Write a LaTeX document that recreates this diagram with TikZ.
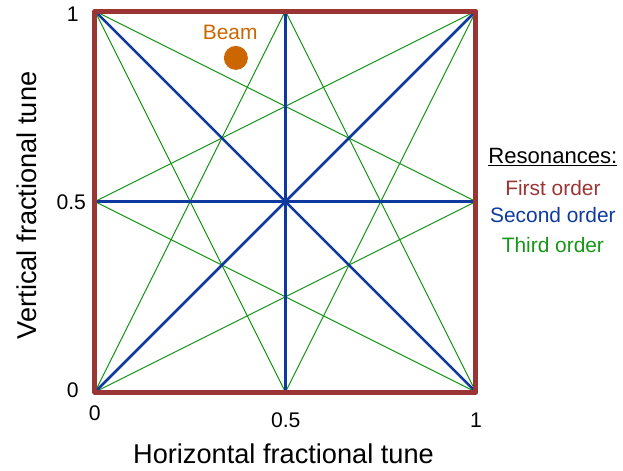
\documentclass[tikz,border=0pt]{standalone}
\usepackage{fontspec}
\setmainfont{Liberation Sans}
\definecolor{firstred}{RGB}{155,52,52}
\definecolor{secondblue}{RGB}{14,58,160}
\definecolor{thirdgreen}{RGB}{22,150,22}
\definecolor{beamorange}{RGB}{204,102,0}
\begin{document}
\begin{tikzpicture}[
    first/.style={draw=firstred, line width=3.7pt, line join=round},
    second/.style={draw=secondblue, line width=1.9pt},
    third/.style={draw=thirdgreen, line width=0.75pt},
    tick/.style={font=\fontsize{15.8}{17}\selectfont},
    legend/.style={font=\fontsize{15.6}{18}\selectfont}
  ]
    \useasboundingbox (-2.49,-2.05) rectangle (13.86,10.29);

    % Corners and midpoints of the tune square
    \coordinate (bl) at (0,0);
    \coordinate (br) at (10,0);
    \coordinate (tl) at (0,10);
    \coordinate (tr) at (10,10);
    \coordinate (bm) at (5,0);
    \coordinate (tm) at (5,10);
    \coordinate (lm) at (0,5);
    \coordinate (rm) at (10,5);

    % Third order resonances
    \draw[third] (tl) -- (bm);
    \draw[third] (tm) -- (br);
    \draw[third] (lm) -- (br);
    \draw[third] (tl) -- (rm);
    \draw[third] (bl) -- (tm);
    \draw[third] (bm) -- (tr);
    \draw[third] (bl) -- (rm);
    \draw[third] (lm) -- (tr);

    % Second order resonances
    \draw[second] (bm) -- (tm);
    \draw[second] (lm) -- (rm);
    \draw[second] (bl) -- (tr);
    \draw[second] (tl) -- (br);

    % First order resonances (frame)
    \draw[first] (bl) rectangle (tr);

    % Beam
    \fill[beamorange] (3.70,8.77) circle (0.315) coordinate (beam);
    \node[text=beamorange, legend] (beamlabel) at (3.55,9.45) {Beam};

    % Tick labels
    \node[tick] (y1) at (-0.58,9.92) {1};
    \node[tick] (yhalf) at (-0.62,4.99) {0.5};
    \node[tick] (y0) at (-0.58,0.05) {0};
    \node[tick] (x0) at (0,-0.55) {0};
    \node[tick] (xhalf) at (5.01,-0.73) {0.5};
    \node[tick] (x1) at (10,-0.73) {1};

    % Axis titles
    \node[font=\fontsize{20.3}{23}\selectfont] (xlabel) at (4.95,-1.62) {Horizontal fractional tune};
    \node[font=\fontsize{20.3}{23}\selectfont, rotate=90] (ylabel) at (-1.8,4.9) {Vertical fractional tune};

    % Legend
    \node[font=\fontsize{16.5}{19}\selectfont] (restitle) at (12.02,6.17) {\underline{Resonances:}};
    \node[legend, text=firstred] (resfirst) at (12.02,5.35) {First order};
    \node[legend, text=secondblue] (ressecond) at (12.02,4.65) {Second order};
    \node[legend, text=thirdgreen] (resthird) at (12.02,3.86) {Third order};
\end{tikzpicture}
\end{document}
